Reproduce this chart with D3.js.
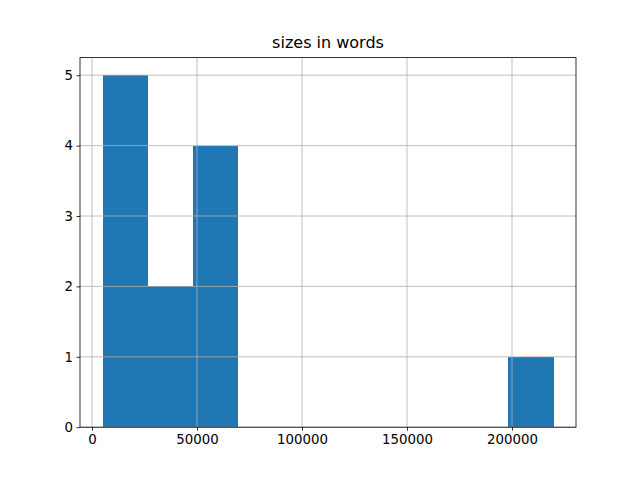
<!DOCTYPE html>
<html><head><meta charset="utf-8">
<script src="https://d3js.org/d3.v7.min.js"></script>
<style>body{margin:0;background:#fff}svg{display:block}text{font-family:"DejaVu Sans",sans-serif}</style>
</head><body>
<script>
const binEdges = [5022, 26494, 47966, 69438, 90910, 112382, 133854, 155326, 176798, 198270, 219742];
const counts = [5, 2, 4, 0, 0, 0, 0, 0, 0, 1];
const xTicks = [0, 50000, 100000, 150000, 200000];
const yTicks = [0, 1, 2, 3, 4, 5];
const title = "sizes in words";

const W = 640, H = 480;
const L = 80, R = 576, T = 57.6, B = 427.2;
const svg = d3.select("body").append("svg").attr("width", W).attr("height", H);

const span = binEdges[binEdges.length-1] - binEdges[0];
const x = d3.scaleLinear().domain([binEdges[0] - 0.05*span, binEdges[binEdges.length-1] + 0.05*span]).range([L, R]);
const y = d3.scaleLinear().domain([0, d3.max(counts)*1.05]).range([B, T]);

const bins = counts.map((c, i) => ({x0: binEdges[i], x1: binEdges[i+1], c}));
svg.append("g").attr("shape-rendering", "crispEdges").selectAll("rect").data(bins.filter(d => d.c > 0)).join("rect")
  .attr("x", d => x(d.x0)).attr("width", d => x(d.x1) - x(d.x0) + 0.5)
  .attr("y", d => y(d.c)).attr("height", d => y(0) - y(d.c))
  .attr("fill", "#1f77b4");

// grid
const grid = svg.append("g").attr("stroke", "#b0b0b0").attr("stroke-width", 0.8);
xTicks.forEach(t => grid.append("line").attr("x1", x(t)).attr("x2", x(t)).attr("y1", T).attr("y2", B));
yTicks.forEach(t => grid.append("line").attr("x1", L).attr("x2", R).attr("y1", y(t)).attr("y2", y(t)));

// axes
const xAxis = d3.axisBottom(x).tickValues(xTicks).tickFormat(d3.format("d")).tickSize(3.5).tickPadding(3.5);
const yAxis = d3.axisLeft(y).tickValues(yTicks).tickFormat(d3.format("d")).tickSize(3.5).tickPadding(3.5);
const gx = svg.append("g").attr("transform", `translate(0,${B})`).call(xAxis);
const gy = svg.append("g").attr("transform", `translate(${L},0)`).call(yAxis);
[gx, gy].forEach(g => {
  g.select(".domain").remove();
  g.selectAll("line").attr("stroke", "#000").attr("stroke-width", 0.8);
  g.selectAll("text").attr("font-size", "13.33px").attr("fill", "#000").attr("font-family", "DejaVu Sans");
});

// spines
svg.append("rect").attr("x", L).attr("y", T).attr("width", R - L).attr("height", B - T)
  .attr("fill", "none").attr("stroke", "#000").attr("stroke-width", 0.8);

svg.append("text").attr("x", (L + R)/2).attr("y", T - 10).attr("text-anchor", "middle")
  .attr("font-size", "16px").text(title);
</script>
</body></html>
